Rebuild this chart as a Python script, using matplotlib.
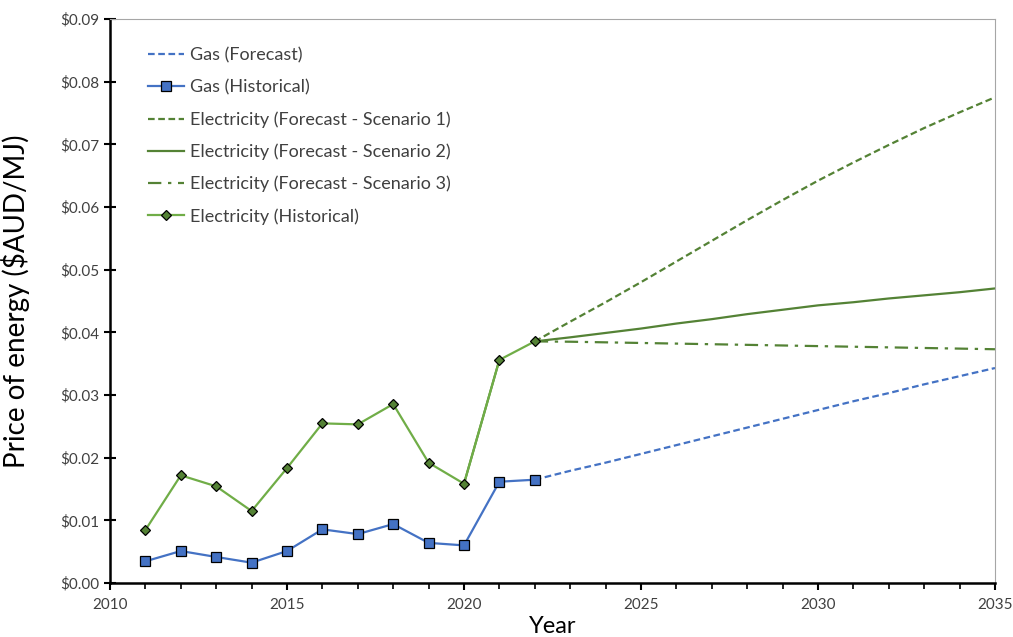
import matplotlib
matplotlib.use("Agg")
import matplotlib.pyplot as plt
from matplotlib.ticker import FuncFormatter, MultipleLocator

plt.rcParams['font.family'] = ['Lato', 'DejaVu Sans']

hist_years = [2011, 2012, 2013, 2014, 2015, 2016, 2017, 2018, 2019, 2020, 2021, 2022]
gas_hist = [0.00346, 0.0051, 0.00415, 0.00324, 0.0051, 0.00856, 0.0078, 0.0094, 0.0064, 0.0060, 0.01616, 0.01648]
elec_hist = [0.00845, 0.01718, 0.01542, 0.01148, 0.01834, 0.02547, 0.02531, 0.02855, 0.01919, 0.01584, 0.0356, 0.03855]

fc_years = [2022, 2023, 2024, 2025, 2026, 2027, 2028, 2029, 2030, 2031, 2032, 2033, 2034, 2035]
gas_fc = [0.01648, 0.0179, 0.0192, 0.0206, 0.0220, 0.0234, 0.0248, 0.0262, 0.0276, 0.0290, 0.0303, 0.0317, 0.0330, 0.0343]
elec_s1 = [0.03855, 0.0417, 0.0448, 0.0480, 0.0513, 0.0546, 0.0579, 0.0611, 0.0642, 0.0671, 0.0699, 0.0726, 0.0751, 0.0775]
elec_s2 = [0.03855, 0.0392, 0.0399, 0.0406, 0.0414, 0.0421, 0.0429, 0.0436, 0.0443, 0.0448, 0.0454, 0.0459, 0.0464, 0.0470]
elec_s3 = [0.03855, 0.0385, 0.0384, 0.0383, 0.0382, 0.0381, 0.0380, 0.0379, 0.0378, 0.0377, 0.0376, 0.0375, 0.0374, 0.0373]

labels = ["Gas (Forecast)", "Gas (Historical)",
          "Electricity (Forecast - Scenario 1)", "Electricity (Forecast - Scenario 2)",
          "Electricity (Forecast - Scenario 3)", "Electricity (Historical)"]

c_gas = "#4472C4"
c_elec = "#70AD47"
c_dark = "#548235"

fig = plt.figure(figsize=(10.13, 6.37), dpi=100)
ax = fig.add_axes([0.1086, 0.0848, 0.8736, 0.8854])

ax.plot(fc_years, gas_fc, color=c_gas, lw=1.6, ls=(0, (3, 1.6)), label=labels[0], zorder=2)
ax.plot(hist_years, gas_hist, color=c_gas, lw=1.6, marker='s', ms=6.5,
        mfc=c_gas, mec='black', mew=0.9, label=labels[1], zorder=4)
ax.plot(fc_years, elec_s1, color=c_dark, lw=1.6, ls=(0, (3, 1.6)), label=labels[2], zorder=2)
ax.plot(fc_years, elec_s2, color=c_dark, lw=1.6, ls='-', label=labels[3], zorder=2)
ax.plot(fc_years, elec_s3, color=c_dark, lw=1.6, ls=(0, (6, 3, 1.5, 3)), label=labels[4], zorder=2)
ax.plot(hist_years, elec_hist, color=c_elec, lw=1.6, marker='D', ms=5.5,
        mfc=c_dark, mec='black', mew=0.9, label=labels[5], zorder=4)
# darker overlay between 2020 and 2021
ax.plot(hist_years[9:11], elec_hist[9:11], color=c_dark, lw=1.6, zorder=3)

ax.set_xlim(2010, 2035)
ax.set_ylim(0, 0.09)
ax.xaxis.set_major_locator(MultipleLocator(5))
ax.xaxis.set_minor_locator(MultipleLocator(1))
ax.yaxis.set_major_locator(MultipleLocator(0.01))
ax.yaxis.set_major_formatter(FuncFormatter(lambda v, p: "${:.2f}".format(v)))

for s in ['left', 'bottom']:
    ax.spines[s].set_linewidth(1.8)
    ax.spines[s].set_color('black')
for s in ['top', 'right']:
    ax.spines[s].set_linewidth(0.8)
    ax.spines[s].set_color('#A6A6A6')

ax.tick_params(axis='y', which='major', direction='inout', length=8, width=1.5,
               labelsize=11, colors='black', labelcolor='#404040', pad=4, right=False)
ax.tick_params(axis='x', which='both', direction='out', length=5, width=1.5,
               labelsize=11, labelcolor='#404040', top=False, pad=6)
ax.tick_params(axis='x', which='minor', length=4, width=1.2)

ax.set_xlabel("Year", fontsize=17)
ax.xaxis.set_label_coords(0.5, -0.058)
ax.xaxis.label.set_va('top')
ax.set_ylabel("Price of energy ($AUD/MJ)", fontsize=20)
ax.yaxis.set_label_coords(-0.09, 0.5)

leg = ax.legend(loc='upper left', bbox_to_anchor=(0.025, 0.978), frameon=False,
                fontsize=13, handlelength=2.0, handletextpad=0.3, labelspacing=0.87)
for t in leg.get_texts():
    t.set_color('#404040')

fig.savefig("out.png", dpi=100)
